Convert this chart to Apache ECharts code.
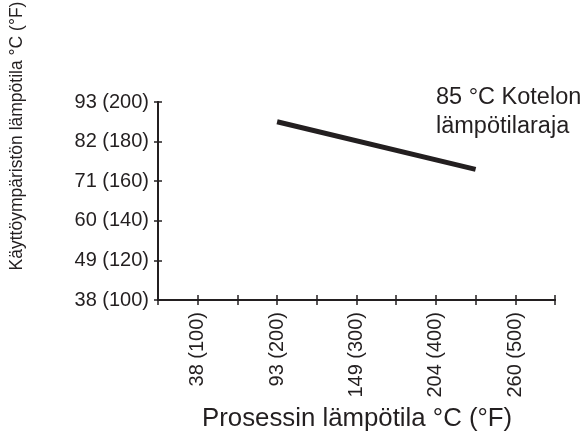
<!DOCTYPE html>
<html>
<head>
<meta charset="utf-8">
<script src="https://cdn.jsdelivr.net/npm/echarts@6/dist/echarts.min.js"></script>
<style>
  html, body { margin: 0; padding: 0; background: #fff; }
  #chart { width: 587px; height: 441px; }
</style>
</head>
<body>
<div id="chart"></div>
<script>
// values kept in °F, labels show °C (°F)
const xTicksF = [100, 200, 300, 400, 500];
const xTicksC = [38, 93, 149, 204, 260];
const yTicksF = [100, 120, 140, 160, 180, 200];
const yTicksC = [38, 49, 60, 71, 82, 93];
const limitX = [200, 450];
const limitY = [190, 166];
const limitLabel = '85 °C Kotelon\nlämpötilaraja';
const xName = 'Prosessin lämpötila °C (°F)';
const yName = 'Käyttöympäristön lämpötila °C (°F)';

const ink = '#231f20';
const font = 'Liberation Sans, Arial, Helvetica, sans-serif';

function tickText(ticksF, ticksC) {
  return (v) => {
    const i = ticksF.indexOf(v);
    return i < 0 ? '' : ticksC[i] + ' (' + ticksF[i] + ')';
  };
}

const baseX = {
  type: 'value', min: 50, max: 550, interval: 50,
  position: 'bottom',
  splitLine: { show: false },
  axisLine: { lineStyle: { color: ink, width: 2 } },
};
const baseY = {
  type: 'value', min: 100, max: 200, interval: 20,
  position: 'left',
  splitLine: { show: false },
  axisLine: { lineStyle: { color: ink, width: 2 } },
};

const chart = echarts.init(document.getElementById('chart'));
chart.setOption({
  animation: false,
  grid: { left: 158, right: 32, top: 102, bottom: 141 },
  xAxis: [
    Object.assign({}, baseX, {
      axisTick: { length: 5, lineStyle: { color: ink, width: 1.5 } },
      axisLabel: {
        rotate: 90, margin: 12, fontSize: 20, color: ink, fontFamily: font,
        formatter: tickText(xTicksF, xTicksC),
      },
    }),
    Object.assign({}, baseX, {
      axisTick: { inside: true, length: 5, lineStyle: { color: ink, width: 1.5 } },
      axisLabel: { show: false },
    }),
  ],
  yAxis: [
    Object.assign({}, baseY, {
      axisTick: { length: 4, lineStyle: { color: ink, width: 1.5 } },
      axisLabel: {
        margin: 9, fontSize: 20, color: ink, fontFamily: font,
        formatter: tickText(yTicksF, yTicksC),
      },
    }),
    Object.assign({}, baseY, {
      axisTick: { inside: true, length: 4, lineStyle: { color: ink, width: 1.5 } },
      axisLabel: { show: false },
    }),
  ],
  series: [{
    type: 'line',
    data: limitX.map((x, i) => [x, limitY[i]]),
    symbol: 'none',
    lineStyle: { color: ink, width: 5 },
  }],
  graphic: [
    {
      type: 'text', left: 436, top: 83,
      style: { text: limitLabel, fontSize: 23.5, lineHeight: 29, fill: ink, fontFamily: font },
    },
    {
      type: 'text', left: 202, top: 406,
      style: { text: xName, fontSize: 25.8, fill: ink, fontFamily: font },
    },
    {
      type: 'text', x: 17, y: 136, rotation: Math.PI / 2,
      style: {
        text: yName, fontSize: 17.5, fill: ink, fontFamily: font,
        align: 'center', verticalAlign: 'middle',
      },
    },
  ],
});
</script>
</body>
</html>
